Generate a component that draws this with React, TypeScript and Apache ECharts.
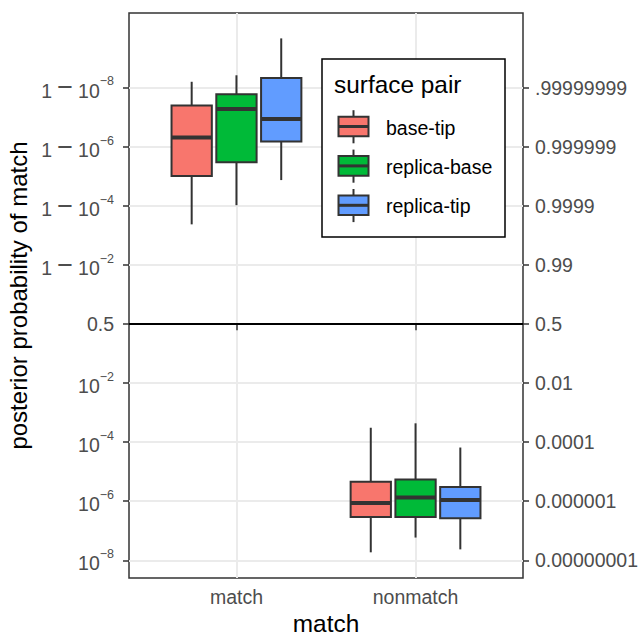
import React, { useEffect, useRef } from "react";
import * as echarts from "echarts";

// y values are on a signed log10 scale: -k means p = 10^-k, +k means p = 1 - 10^-k, 0 means p = 0.5
const categories = ["match", "nonmatch"];
const groupNames = ["base-tip", "replica-base", "replica-tip"];
const groupColors = ["#F8766D", "#00BA38", "#619CFF"];

// per category: [lower whisker, Q1, median, Q3, upper whisker]
const baseTipStats = [
  [3.38, 5.02, 6.32, 7.41, 8.21],
  [-7.73, -6.53, -6.06, -5.34, -3.51],
];
const replicaBaseStats = [
  [4.03, 5.48, 7.29, 7.79, 8.43],
  [-7.23, -6.53, -5.87, -5.26, -3.36],
];
const replicaTipStats = [
  [4.88, 6.19, 6.95, 8.34, 9.68],
  [-7.63, -6.58, -5.96, -5.52, -4.18],
];

const yTickValues = [-8, -6, -4, -2, 0, 2, 4, 6, 8];
const leftTickLabels = ["10^−8", "10^−6", "10^−4", "10^−2", "0.5", "1 − 10^−2", "1 − 10^−4", "1 − 10^−6", "1 − 10^−8"];
const rightTickLabels = ["0.00000001", "0.000001", "0.0001", "0.01", "0.5", "0.99", "0.9999", "0.999999", ".99999999"];
const xTickValues = [1, 2];

const FONT = "Liberation Sans";
const DODGE = [-0.25, 0, 0.25];
const BOX_W = 0.225;
const EDGE = "#333333";
const TICK_COLOR = "#4D4D4D";

function makeRenderItem(idx: number) {
  return (params: any, api: any) => {
    const x = api.value(0) + DODGE[idx];
    const lo = api.coord([x, api.value(1)]);
    const q1 = api.coord([x, api.value(2)]);
    const med = api.coord([x, api.value(3)]);
    const q3 = api.coord([x, api.value(4)]);
    const hi = api.coord([x, api.value(5)]);
    const w = api.size([BOX_W, 0])[0];
    const cx = lo[0];
    return {
      type: "group",
      children: [
        { type: "line", shape: { x1: cx, y1: hi[1], x2: cx, y2: q3[1] }, style: { stroke: EDGE, lineWidth: 2 } },
        { type: "line", shape: { x1: cx, y1: q1[1], x2: cx, y2: lo[1] }, style: { stroke: EDGE, lineWidth: 2 } },
        {
          type: "rect",
          shape: { x: cx - w / 2, y: q3[1], width: w, height: q1[1] - q3[1] },
          style: { fill: groupColors[idx], stroke: EDGE, lineWidth: 2 },
        },
        { type: "line", shape: { x1: cx - w / 2, y1: med[1], x2: cx + w / 2, y2: med[1] }, style: { stroke: EDGE, lineWidth: 4 } },
      ],
    };
  };
}

function leftFormatter(v: number) {
  const i = yTickValues.indexOf(Math.round(v));
  const s = i >= 0 ? leftTickLabels[i] : "";
  if (s.indexOf("^") >= 0) {
    const [a, b] = s.split("^");
    if (a.indexOf("−") >= 0) {
      const parts = a.split("−");
      return `{b|${parts[0].trim()}}{m|−}{b|${parts[1].trim()}}{s|${b}}`;
    }
    return `{b|${a}}{s|${b}}`;
  }
  return `{p|${s}}`;
}

function rightFormatter(v: number) {
  const i = yTickValues.indexOf(Math.round(v));
  return i >= 0 ? rightTickLabels[i] : "";
}

export default function App() {
  const ref = useRef<HTMLDivElement>(null);
  useEffect(() => {
    if (!ref.current) return;
    const chart = echarts.init(ref.current, undefined, { renderer: "svg" });
    const allStats = [baseTipStats, replicaBaseStats, replicaTipStats];

    const series: any[] = allStats.map((stats, idx) => ({
      type: "custom",
      name: groupNames[idx],
      renderItem: makeRenderItem(idx),
      encode: { x: 0, y: [1, 2, 3, 4, 5] },
      data: stats.map((s, ci) => [ci + 1, ...s]),
      z: 3,
    }));
    series[0].markLine = {
      silent: true,
      symbol: "none",
      label: { show: false },
      lineStyle: { color: "#000000", width: 2, type: "solid" },
      data: [{ yAxis: 0 }],
      z: 4,
    };

    const legendChildren: any[] = [
      {
        type: "rect",
        shape: { x: 322, y: 59, width: 183, height: 178 },
        style: { fill: "#ffffff", stroke: "#000000", lineWidth: 1.5 },
        z: 100,
      },
      {
        type: "text",
        x: 334,
        y: 84,
        style: { text: "surface pair", font: `24.4px '${FONT}'`, fill: "#000000", verticalAlign: "middle", align: "left" },
        z: 101,
      },
    ];
    groupNames.forEach((name, i) => {
      const cy = 126.5 + 39.4 * i;
      legendChildren.push(
        { type: "line", shape: { x1: 353.5, y1: cy - 16.3, x2: 353.5, y2: cy + 16.8 }, style: { stroke: EDGE, lineWidth: 2 }, z: 101 },
        { type: "rect", shape: { x: 338.5, y: cy - 9.8, width: 30, height: 19.6 }, style: { fill: groupColors[i], stroke: EDGE, lineWidth: 2 }, z: 102 },
        { type: "line", shape: { x1: 338.5, y1: cy, x2: 368.5, y2: cy }, style: { stroke: EDGE, lineWidth: 3 }, z: 103 },
        {
          type: "text",
          x: 386,
          y: cy + 1,
          style: { text: name, font: `19.5px '${FONT}'`, fill: "#000000", verticalAlign: "middle", align: "left" },
          z: 103,
        }
      );
    });

    const tickLabelStyle = { fontFamily: FONT, fontSize: 19.5, color: TICK_COLOR };

    chart.setOption({
      animation: false,
      backgroundColor: "#ffffff",
      textStyle: { fontFamily: FONT },
      grid: {
        left: 129,
        top: 13,
        width: 394,
        height: 565,
        show: true,
        borderColor: EDGE,
        borderWidth: 1.5,
        backgroundColor: "#ffffff",
        containLabel: false,
        outerBoundsMode: "none",
      },
      xAxis: {
        type: "value",
        min: 0.4,
        max: 2.6,
        name: "match",
        nameLocation: "middle",
        nameGap: 33,
        nameTextStyle: { fontFamily: FONT, fontSize: 24.4, color: "#000000" },
        axisLine: { show: false },
        axisTick: { show: true, length: 6, customValues: xTickValues, lineStyle: { color: EDGE, width: 1.5 } },
        axisLabel: {
          ...tickLabelStyle,
          margin: 9,
          customValues: xTickValues,
          formatter: (v: number) => categories[Math.round(v) - 1] ?? "",
        },
        splitLine: { show: true, lineStyle: { color: "#EBEBEB", width: 2 } },
      },
      yAxis: [
        {
          type: "value",
          min: -8.6,
          max: 10.54,
          position: "left",
          name: "posterior probability of match",
          nameLocation: "middle",
          nameGap: 96,
          nameRotate: 90,
          nameTextStyle: { fontFamily: FONT, fontSize: 24, color: "#000000" },
          axisLine: { show: false },
          axisTick: { show: true, length: 6, customValues: yTickValues, lineStyle: { color: EDGE, width: 1.5 } },
          axisLabel: {
            ...tickLabelStyle,
            margin: 15,
            customValues: yTickValues,
            formatter: leftFormatter,
            rich: {
              b: { fontFamily: FONT, fontSize: 19.5, color: TICK_COLOR, lineHeight: 26, verticalAlign: "bottom" },
              m: { fontFamily: FONT, fontSize: 27, color: TICK_COLOR, lineHeight: 22, verticalAlign: "bottom", width: 26, align: "center" },
              s: { fontFamily: FONT, fontSize: 12.5, color: TICK_COLOR, lineHeight: 12, verticalAlign: "top" },
              p: { fontFamily: FONT, fontSize: 19.5, color: TICK_COLOR, lineHeight: 26, verticalAlign: "middle" },
            },
          },
          splitLine: { show: true, lineStyle: { color: "#EBEBEB", width: 2 } },
        },
        {
          type: "value",
          min: -8.6,
          max: 10.54,
          position: "right",
          axisLine: { show: false },
          axisTick: { show: true, length: 6, customValues: yTickValues, lineStyle: { color: EDGE, width: 1.5 } },
          axisLabel: {
            ...tickLabelStyle,
            margin: 12,
            customValues: yTickValues,
            formatter: rightFormatter,
          },
          splitLine: { show: false },
        },
      ],
      series,
      graphic: legendChildren,
    });
    return () => chart.dispose();
  }, []);
  return (
    <div
      ref={ref}
      style={{ position: "absolute", left: 0, top: 0, width: 638, height: 636 }}
    />
  );
}
